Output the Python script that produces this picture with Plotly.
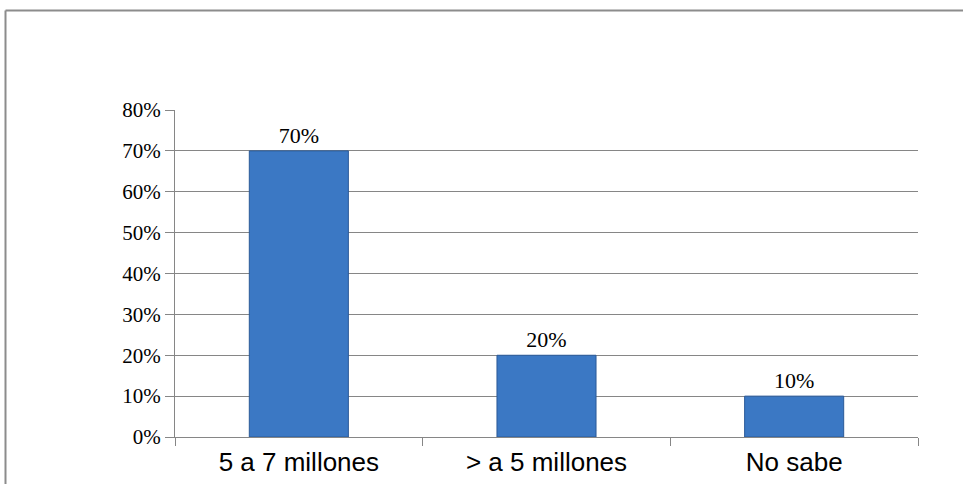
import plotly.graph_objects as go

categories = ["5 a 7 millones", "> a 5 millones", "No sabe"]
values = [0.70, 0.20, 0.10]
labels = ["70%", "20%", "10%"]
y_ticks = [0.0, 0.1, 0.2, 0.3, 0.4, 0.5, 0.6, 0.7, 0.8]

W, H = 963, 484
L, R, T, B = 175, 45, 110, 47
pw, ph = W - L - R, H - T - B

fig = go.Figure()
fig.add_trace(go.Bar(
    x=categories, y=values, text=labels, textposition="outside",
    textfont=dict(family="Liberation Serif", size=22, color="#000000"),
    marker=dict(color="#3b78c4", line=dict(color="#2b5a98", width=1)),
    width=0.4, cliponaxis=False,
))

def px_x(p):
    return (p - L) / pw

def px_y(p):
    return (H - B - p) / ph

border = "#8c8c8c"
fig.add_shape(type="line", xref="paper", yref="paper",
              x0=px_x(5.5), x1=px_x(1000), y0=px_y(10.5), y1=px_y(10.5),
              line=dict(color=border, width=2))
fig.add_shape(type="line", xref="paper", yref="paper",
              x0=px_x(5.5), x1=px_x(5.5), y0=px_y(10.5), y1=px_y(600),
              line=dict(color=border, width=2))

fig.update_layout(
    width=W, height=H,
    margin=dict(l=L, r=R, t=T, b=B, pad=0, autoexpand=False),
    paper_bgcolor="white", plot_bgcolor="white",
    showlegend=False,
    bargap=0.6,
    xaxis=dict(
        type="category", showgrid=False, ticks="outside", tickson="boundaries",
        ticklen=8, tickcolor="#868686", showline=True, linecolor="#868686", linewidth=1,
        tickfont=dict(family="Liberation Sans", size=26, color="#000000"),
        ticklabelstandoff=2, automargin=False,
        range=[-0.5, 2.5],
    ),
    yaxis=dict(
        range=[0, 0.8], tickvals=y_ticks, tickformat=".0%",
        showgrid=True, gridcolor="#868686", gridwidth=1,
        ticks="outside", ticklen=9, tickcolor="#868686",
        showline=True, linecolor="#868686", linewidth=1,
        tickfont=dict(family="Liberation Serif", size=21, color="#000000"),
        zeroline=False, automargin=False,
    ),
)

fig.write_html("out.html")
